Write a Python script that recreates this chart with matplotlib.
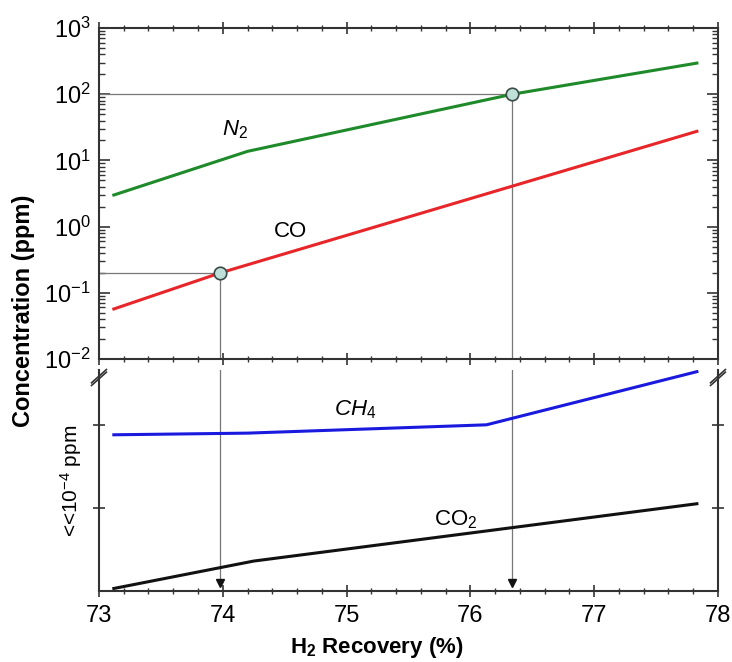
import matplotlib
matplotlib.use("Agg")
import matplotlib.pyplot as plt
from matplotlib.ticker import MultipleLocator, LogLocator
import numpy as np

plt.rcParams['font.family'] = ['Liberation Sans', 'DejaVu Sans']
plt.rcParams['mathtext.fontset'] = 'custom'
plt.rcParams['mathtext.rm'] = 'Liberation Sans'
plt.rcParams['mathtext.it'] = 'Liberation Sans:italic'
plt.rcParams['mathtext.bf'] = 'Liberation Sans:bold'

# datos
n2_x = [73.12, 74.2, 76.34, 77.83]
n2_y = [3.0, 13.7, 100.0, 295.0]
co_x = [73.12, 73.98, 77.83]
co_y = [0.057, 0.2, 27.5]
ch4_x = [73.12, 74.2, 76.13, 77.83]
ch4_y = [1.88, 1.90, 2.0, 2.64]
co2_x = [73.12, 74.25, 77.83]
co2_y = [0.03, 0.36, 1.05]

punto_co = (73.98, 0.2)
punto_n2 = (76.34, 100.0)

fig = plt.figure(figsize=(7.32, 6.62), dpi=100, facecolor='white')
ax1 = fig.add_axes([0.1352, 0.4577, 0.8456, 0.5])
ax2 = fig.add_axes([0.1352, 0.1073, 0.8456, 0.3338])

spine_c = '#333333'
guia_c = '#777777'
fs = 17

# panel superior (log)
ax1.set_yscale('log')
ax1.plot(n2_x, n2_y, color='#1e8a2a', lw=2.2, zorder=3)
ax1.plot(co_x, co_y, color='#e8262a', lw=2.2, zorder=3)
ax1.plot([73, punto_n2[0]], [punto_n2[1]] * 2, color=guia_c, lw=0.9, zorder=2)
ax1.plot([73, punto_co[0]], [punto_co[1]] * 2, color=guia_c, lw=0.9, zorder=2)
ax1.plot([punto_n2[0]] * 2, [punto_n2[1], 1e-2], color=guia_c, lw=0.9, zorder=2)
ax1.plot([punto_co[0]] * 2, [punto_co[1], 1e-2], color=guia_c, lw=0.9, zorder=2)
for px, py in [punto_co, punto_n2]:
    ax1.plot(px, py, 'o', ms=9, mfc='#bfe0d8', mec='#3a4a46', mew=1.2, zorder=5)
ax1.set_xlim(73, 78)
ax1.set_ylim(1e-2, 1e3)
ax1.text(74.2, 29, r'$N_2$', fontsize=16, ha='right', va='center')
ax1.text(74.55, 0.84, 'CO', fontsize=16, ha='center', va='center')

ax1.xaxis.set_major_locator(MultipleLocator(1))
ax1.xaxis.set_minor_locator(MultipleLocator(0.2))
ax1.yaxis.set_major_locator(LogLocator(base=10, numticks=10))
ax1.yaxis.set_minor_locator(LogLocator(base=10, subs=np.arange(2, 10), numticks=20))
ax1.tick_params(axis='x', which='both', labelbottom=False, top=True, bottom=True, direction='inout')
ax1.tick_params(axis='y', which='both', right=True, direction='in')
ax1.tick_params(which='major', length=8, width=1.2, color=spine_c, labelsize=fs)
ax1.tick_params(which='minor', length=4, width=1.0, color=spine_c)
ax1.tick_params(axis='y', which='major', pad=6)
for s in ax1.spines.values():
    s.set_color(spine_c)
    s.set_linewidth(1.5)

# panel inferior (escala arbitraria)
ax2.plot(ch4_x, ch4_y, color='#1a1adf', lw=2.2, zorder=3)
ax2.plot(co2_x, co2_y, color='#111111', lw=2.2, zorder=3)
for px in [punto_co[0], punto_n2[0]]:
    ax2.plot([px, px], [2.66, 0.07], color=guia_c, lw=0.9, zorder=2)
    ax2.plot(px, 0.09, 'v', ms=6, color='#111111', zorder=4)
ax2.set_xlim(73, 78)
ax2.set_ylim(0, 2.66)
ax2.text(75.07, 2.18, r'$CH_4$', fontsize=16, ha='center', va='center')
ax2.text(75.88, 0.86, r'CO$_\mathrm{2}$', fontsize=16, ha='center', va='center')

ax2.spines['top'].set_visible(False)
ax2.xaxis.set_major_locator(MultipleLocator(1))
ax2.xaxis.set_minor_locator(MultipleLocator(0.2))
ax2.set_yticks([1, 2])
ax2.set_yticklabels([])
ax2.tick_params(axis='x', which='both', direction='inout', top=False)
ax2.tick_params(axis='y', which='both', right=True, direction='inout')
ax2.tick_params(which='major', length=8, width=1.2, color=spine_c, labelsize=fs, pad=6)
ax2.tick_params(which='minor', length=5, width=1.0, color=spine_c)
for s in ax2.spines.values():
    s.set_color(spine_c)
    s.set_linewidth(1.5)

# marcas de corte
d = 0.012
for x0 in [0, 1]:
    for off in [0, 0.012]:
        ax2.plot([x0 - d, x0 + d], [0.93 + off, 0.99 + off], transform=ax2.transAxes,
                 color=spine_c, lw=1.2, clip_on=False)

ax2.set_ylabel(r'<<10$^{-4}$ ppm', fontsize=15, labelpad=1)
fig.text(0.515, 0.022, r'$\mathbf{H_2}$ Recovery (%)', fontsize=16, fontweight='bold',
         ha='center', va='center')
fig.text(0.032, 0.53, 'Concentration (ppm)', rotation=90, fontsize=17, fontweight='bold',
         ha='center', va='center')

fig.savefig('out.png', dpi=100, facecolor='white')
